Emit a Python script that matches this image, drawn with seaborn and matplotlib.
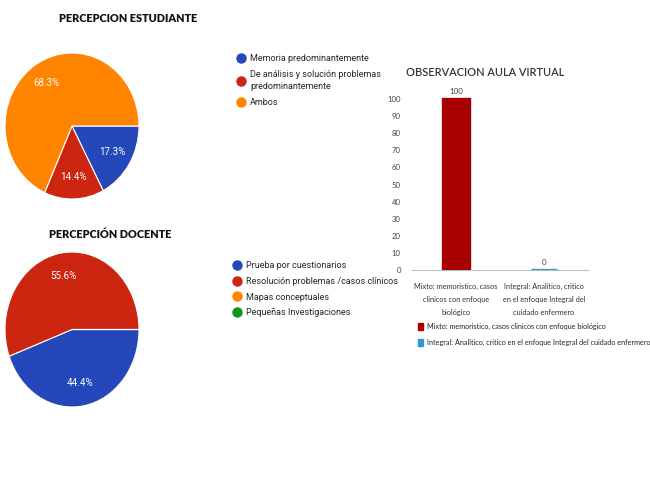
import matplotlib
matplotlib.use("Agg")
import matplotlib.pyplot as plt
import seaborn as sns
from matplotlib.lines import Line2D
from matplotlib.patches import Patch

# ---------------- data ----------------
est_title = "PERCEPCION ESTUDIANTE"
est_labels = ["Memoria predominantemente",
              "De análisis y solución problemas\npredominantemente",
              "Ambos"]
est_values = [17.3, 14.4, 68.3]

doc_title = "PERCEPCIÓN DOCENTE"
doc_labels = ["Prueba por cuestionarios",
              "Resolución problemas /casos clínicos",
              "Mapas conceptuales",
              "Pequeñas Investigaciones"]
doc_values = [44.4, 55.6, 0, 0]

obs_title = "OBSERVACION AULA VIRTUAL"
obs_categories = ["Mixto: memoristico, casos\nclinicos con enfoque\nbiológico",
                  "Integral: Analítico, critico\nen el enfoque Integral del\ncuidado enfermero"]
obs_legend = ["Mixto: memoristico, casos clinicos con enfoque biológico",
              "Integral: Analítico, critico en el enfoque Integral del cuidado enfermero"]
obs_values = [100, 0]
obs_yticks = [0, 10, 20, 30, 40, 50, 60, 70, 80, 90, 100]

# ---------------- style ----------------
pie_colors = ["#2447B9", "#CC2510", "#FF8400", "#109618"]
bar_colors = ["#A80000", "#2E9BD6"]

sns.set_theme(style="white")
plt.rcParams["font.family"] = ["Roboto", "DejaVu Sans"]
NARROW = ["Lato", "DejaVu Sans"]

W, H = 650, 484
fig = plt.figure(figsize=(6.5, 4.84), dpi=100)
fig.patch.set_facecolor("white")


def box(x0, y0, x1, y1):
    return [x0 / W, (H - y1) / H, (x1 - x0) / W, (y1 - y0) / H]


def pct(p):
    return f"{p:.1f}%" if p > 0.05 else ""


def draw_pie(rect, values, colors):
    ax = fig.add_axes(rect)
    ax.pie(values, colors=colors, startangle=0, counterclock=False,
           autopct=pct, pctdistance=0.7,
           wedgeprops=dict(edgecolor="white", linewidth=0.8),
           textprops=dict(color="white", fontsize=7))
    ax.set_aspect("auto")
    ax.set_xlim(-1, 1)
    ax.set_ylim(-1, 1)
    ax.axis("off")
    return ax


def circle_handles(colors):
    return [Line2D([0], [0], marker="o", linestyle="none", markersize=6.5,
                   markerfacecolor=c, markeredgecolor=c) for c in colors]


title_font = dict(family=["Lato", "DejaVu Sans"], fontweight="heavy",
                  fontsize=7.8, color="#111111", ha="center", va="center")

# ---- Pie 1 ----
ax1 = draw_pie(box(5, 53, 139, 199), est_values, pie_colors[:3])
fig.text(128 / W, 1 - 18 / H, est_title, **title_font)
leg1 = ax1.legend(circle_handles(pie_colors[:3]), est_labels, loc="upper left",
                  bbox_to_anchor=(236.5 / W, 1 - 54 / H), bbox_transform=fig.transFigure,
                  frameon=False, fontsize=6.5, handlelength=1, handletextpad=0.5,
                  labelspacing=0.75, borderpad=0, borderaxespad=0)
for t in leg1.get_texts():
    t.set_linespacing(1.45)

# ---- Pie 2 ----
ax2 = draw_pie(box(5, 252, 139, 407), doc_values, pie_colors)
fig.text(110 / W, 1 - 234 / H, doc_title, **title_font)
ax2.legend(circle_handles(pie_colors), doc_labels, loc="upper left",
           bbox_to_anchor=(232 / W, 1 - 261 / H), bbox_transform=fig.transFigure,
           frameon=False, fontsize=6.5, handlelength=1, handletextpad=0.5,
           labelspacing=0.75, borderpad=0, borderaxespad=0)

# ---- Bar chart ----
y0px, y100px = 270, 99
ymax = 105
top = y0px - (y0px - y100px) * ymax / 100
ax3 = fig.add_axes(box(412, top, 588, y0px))
sns.barplot(x=obs_categories, y=obs_values, hue=obs_categories,
            palette=bar_colors, legend=False, width=0.29, ax=ax3,
            saturation=1)
for c, col in zip(ax3.containers, bar_colors):
    for p in c.patches:
        p.set_edgecolor(col)
        p.set_linewidth(2.4)
        p.set_zorder(4)
ax3.set_ylim(0, ymax)
ax3.set_xlim(-0.5, 1.5)
ax3.set_yticks(obs_yticks)
ax3.set_yticklabels([str(t) for t in obs_yticks])
for c in ax3.containers:
    ax3.bar_label(c, labels=[f"{v:.0f}" for v in c.datavalues], padding=3,
                  fontsize=5.8, color="#444444", family=NARROW)
for s in ["top", "right", "left"]:
    ax3.spines[s].set_visible(False)
ax3.spines["bottom"].set_color("#BBBBBB")
ax3.spines["bottom"].set_linewidth(0.8)
ax3.spines["bottom"].set_zorder(1)
ax3.tick_params(axis="y", length=0, pad=8, labelsize=5.6, labelcolor="#444444")
ax3.tick_params(axis="x", which="major", length=0, pad=9, labelsize=5.3,
                labelcolor="#333333")
ax3.set_xticks([-0.5, 0.5, 1.5], minor=True)
ax3.tick_params(axis="x", which="minor", length=3, color="#BBBBBB", width=0.8)
for lab in ax3.get_xticklabels():
    lab.set_linespacing(2.05)
    lab.set_family(NARROW)
for lab in ax3.get_yticklabels():
    lab.set_family(NARROW)
ax3.set_xlabel("")
ax3.set_ylabel("")
ax3.grid(False)
fig.text(485 / W, 1 - 72 / H, obs_title, family=NARROW, fontweight="semibold",
         fontsize=7.9, color="#333333", ha="center", va="center")
ax3.legend([Patch(facecolor=c, edgecolor=c) for c in bar_colors], obs_legend,
           loc="upper left", bbox_to_anchor=(418 / W, 1 - 323 / H),
           bbox_transform=fig.transFigure, frameon=False,
           handlelength=0.75, handleheight=0.95, handletextpad=0.45,
           labelspacing=1.25, borderpad=0, borderaxespad=0,
           prop=dict(family=NARROW, size=5.2))

fig.savefig("out.png", dpi=100, facecolor="white")
